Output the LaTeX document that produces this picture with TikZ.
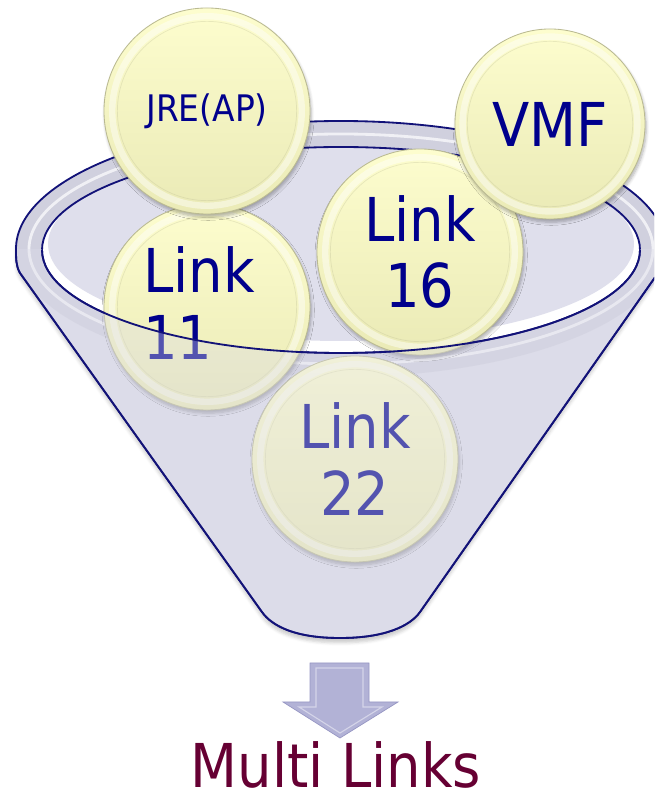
\documentclass[tikz,border=0pt]{standalone}
\usepackage{fontspec}
\setmainfont{DejaVu Sans}[FakeStretch=0.9]
\usetikzlibrary{calc, shadows.blur}

\definecolor{lineNavy}{RGB}{18,18,120}
\definecolor{textNavy}{RGB}{0,0,140}
\definecolor{funnelBody}{RGB}{220,220,233}
\definecolor{funnelInside}{RGB}{223,223,236}
\definecolor{rimBand}{RGB}{208,208,222}
\definecolor{ballTop}{RGB}{253,253,206}
\definecolor{ballBottom}{RGB}{234,234,182}
\definecolor{ballEdge}{RGB}{186,186,146}
\definecolor{arrowFill}{RGB}{178,178,214}
\definecolor{arrowDark}{RGB}{150,150,195}
\definecolor{resultRed}{RGB}{102,0,51}

% outline of the funnel: rim on top, cone below
\newcommand{\funnelOutline}{(16,547) .. controls (16,537) and (16,530) .. (20,523) -- (262,184)
	.. controls (272,170) and (295,158) .. (340,158) .. controls (385,158) and (410,170) .. (420,184)
	-- (658,523) .. controls (662,530) and (666,537) .. (666,547)
	arc[start angle=0, end angle=180, x radius=325, y radius=128] -- cycle}

\begin{document}
\begin{tikzpicture}[
		x=0.025cm, y=0.025cm,
		funnelLine/.style={draw=lineNavy, line width=1.3pt},
		ball/.style={circle, minimum size=#1, inner sep=0pt, draw=ballEdge, line width=0.6pt,
			top color=ballTop, bottom color=ballBottom,
			blur shadow={shadow xshift=0.03cm, shadow yshift=-0.08cm, shadow opacity=30, shadow blur steps=6},
			path picture={
				\draw[white, opacity=0.45, line width=0.16cm] (path picture bounding box.center) circle[radius=0.46*#1];
				\draw[ballEdge, opacity=0.3, line width=0.5pt] (path picture bounding box.center) circle[radius=0.435*#1];
			},
			text=textNavy, align=center, font=\fontsize{43}{47}\selectfont},
		ball/.default=5.15cm,
		lbl/.style={text=textNavy, font=\fontsize{43}{47}\selectfont, inner sep=0pt}
		]
	\useasboundingbox (0,0) rectangle (654,796);
	\clip (0,0) rectangle (654,796);
	
	% =========================================================
	% Funnel body and rim
	% =========================================================
	\fill[funnelBody, blur shadow={shadow xshift=0cm, shadow yshift=-0.12cm, shadow opacity=20}] \funnelOutline;
	\fill[rimBand] (341,547) ellipse[x radius=325, y radius=128];
	\draw[white, opacity=0.7, line width=2pt] (341,547) ellipse[x radius=312, y radius=115];
	\fill[white] (341,546) ellipse[x radius=299, y radius=103];
	\fill[funnelInside] (341,552) ellipse[x radius=293, y radius=97];
	\draw[funnelLine] \funnelOutline;
	\draw[funnelLine] (341,546) ellipse[x radius=299, y radius=103];
	
	% =========================================================
	% Balls
	% =========================================================
	\node[ball] (L22Ball) at (355,337) {Link\\22};
	\node[ball] (L11Ball) at (207,489) {};
	\node[lbl, align=left, anchor=west] (L11Text) at ($(L11Ball.center)+(-64,4)$) {Link\\11};
	\node[ball] (L16Ball) at (420,544) {Link\\16};
	\node[ball, font=\fontsize{26}{30}\selectfont] (JreBall) at (207,685) {JRE(AP)};
	\node[ball=4.75cm] (VmfBall) at (550,672) {VMF};
	
	% front wall of the funnel, see-through
	\begin{scope}
		\clip (0,0) rectangle (654,546);
		\fill[funnelBody, opacity=0.38, even odd rule] \funnelOutline (341,546) ellipse[x radius=299, y radius=103];
		\draw[funnelLine] \funnelOutline;
	\end{scope}
	\draw[funnelLine] (42,546) arc[start angle=180, end angle=360, x radius=299, y radius=103];
	
	% =========================================================
	% Output
	% =========================================================
	\fill[arrowFill] (310,133) -- (369,133) -- (369,94) -- (398,94) -- (340,58) -- (283,94) -- (310,94) -- cycle;
	\draw[arrowDark, line width=0.5pt] (310,133) -- (369,133) -- (369,94) -- (398,94) -- (340,58) -- (283,94) -- (310,94) -- cycle;
	\draw[white, opacity=0.45, line width=0.8pt] (316,128) -- (363,128) -- (363,89) -- (382,89) -- (340,63) -- (299,89) -- (316,89) -- cycle;
	
	\node[font=\fontsize{43}{47}\selectfont, text=resultRed, anchor=base, inner sep=0pt] (Result) at (336,8) {Multi Links};
\end{tikzpicture}
\end{document}
